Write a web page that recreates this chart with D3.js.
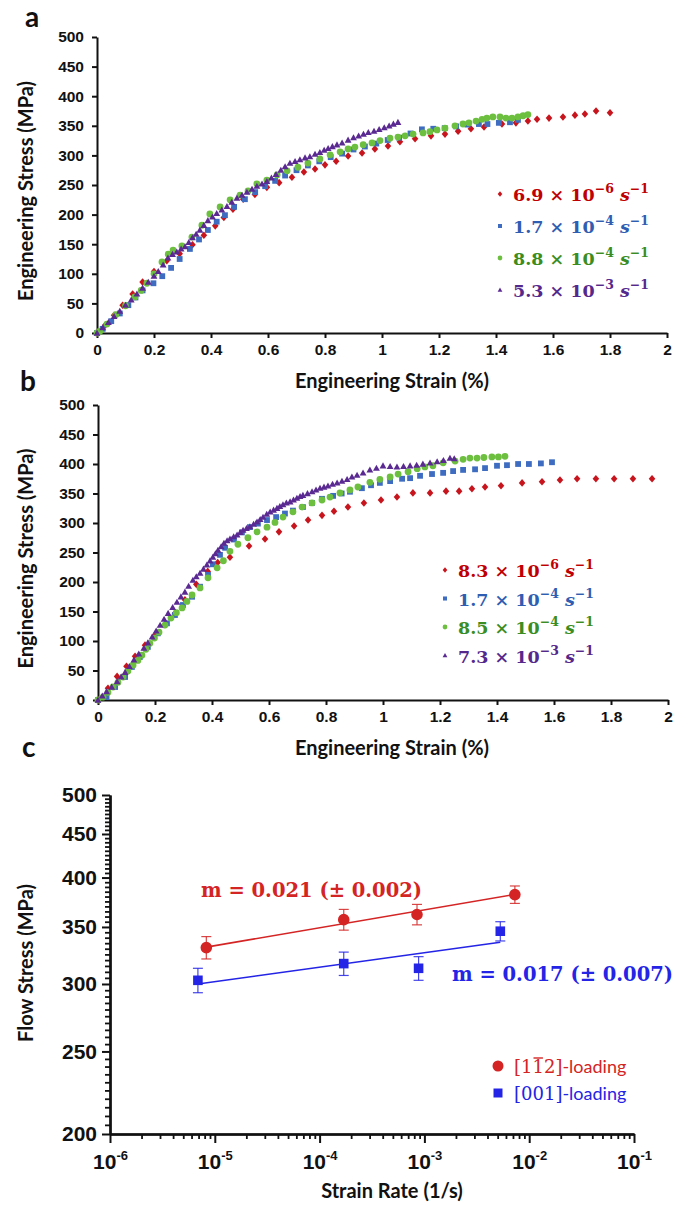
<!DOCTYPE html>
<html><head><meta charset="utf-8">
<script src="https://cdn.jsdelivr.net/npm/d3@7"></script>
<style>
body{margin:0;background:#fff}
svg{display:block}
</style></head><body>
<svg id="fig" width="689" height="1207"></svg>
<script>
// ---------- data: panel a (rates 6.9e-6, 1.7e-4, 8.8e-4, 5.3e-3 1/s) ----------
const strainTicks = [0, 0.2, 0.4, 0.6, 0.8, 1, 1.2, 1.4, 1.6, 1.8, 2];
const stressTicks = [0, 50, 100, 150, 200, 250, 300, 350, 400, 450, 500];

const aMantissa = ["6.9", "1.7", "8.8", "5.3"];
const aExponent = ["−6", "−4", "−4", "−3"];

const aRed = [[0,0],[0.03,14],[0.06,30],[0.09,47],[0.125,66],[0.16,86],[0.2,104],[0.245,122],[0.29,134],[0.335,149],[0.375,165],[0.415,181],[0.445,195],[0.477,209],[0.513,226],[0.554,234],[0.596,246],[0.639,254],[0.684,263],[0.726,272],[0.765,277],[0.8,284],[0.839,290],[0.881,299],[0.93,304],[0.975,311],[1.021,316],[1.063,323],[1.116,328],[1.172,333],[1.221,336],[1.267,341],[1.312,345],[1.358,348],[1.421,353],[1.47,355],[1.512,358],[1.544,361],[1.586,363],[1.635,365],[1.677,368],[1.712,370],[1.751,375],[1.8,372]];
const aBlue = [[0,0],[0.02,7],[0.05,20],[0.08,33],[0.11,47],[0.135,60],[0.16,72],[0.198,84],[0.229,96],[0.26,110],[0.29,125],[0.326,142],[0.358,158],[0.389,174],[0.42,188],[0.449,199],[0.481,213],[0.519,226],[0.555,238],[0.59,248],[0.625,257],[0.66,266],[0.7,275],[0.74,283],[0.78,290],[0.82,297],[0.86,303],[0.9,310],[0.94,315],[0.98,320],[1.02,326],[1.06,330],[1.1,337],[1.14,344],[1.18,345],[1.22,346],[1.26,349],[1.3,352],[1.34,353],[1.37,353],[1.41,355],[1.449,356],[1.477,360]];
const aGreen = [[0,0],[0.01,3],[0.035,15],[0.066,31],[0.1,46],[0.133,61],[0.155,72],[0.175,84],[0.2,100],[0.228,120],[0.25,133],[0.267,140],[0.298,147],[0.333,162],[0.368,182],[0.396,201],[0.432,213],[0.467,225],[0.502,233],[0.53,240],[0.561,252],[0.596,258],[0.632,267],[0.667,274],[0.705,280],[0.74,287],[0.782,294],[0.818,301],[0.853,306],[0.881,311],[0.905,314],[0.934,318],[0.965,321],[0.993,325],[1.028,329],[1.056,331],[1.081,333],[1.109,336],[1.144,338],[1.168,340],[1.193,343],[1.221,346],[1.256,350],[1.284,353],[1.305,355],[1.33,358],[1.351,361],[1.368,363],[1.389,365],[1.414,365],[1.435,363],[1.456,363],[1.477,365],[1.495,367],[1.512,369]];
const aPurple = [[0,0],[0.02,9],[0.04,18],[0.06,28],[0.08,37],[0.1,47],[0.12,56],[0.14,66],[0.16,76],[0.18,86],[0.2,96],[0.215,104],[0.232,115],[0.249,127],[0.265,133],[0.28,137],[0.295,142],[0.309,146],[0.322,153],[0.335,161],[0.348,167],[0.361,174],[0.375,182],[0.389,190],[0.405,196],[0.42,202],[0.438,208],[0.456,214],[0.473,221],[0.491,228],[0.509,233],[0.526,238],[0.544,243],[0.561,248],[0.579,252],[0.596,256],[0.612,262],[0.628,268],[0.645,275],[0.66,281],[0.677,287],[0.695,290],[0.712,293],[0.73,296],[0.747,298],[0.765,302],[0.782,305],[0.797,309],[0.811,312],[0.826,315],[0.842,318],[0.86,321],[0.881,326],[0.9,330],[0.918,333],[0.935,336],[0.952,339],[0.972,341],[0.99,344],[1.008,347],[1.025,350],[1.04,353],[1.056,356]];

// ---------- data: panel b (rates 8.3e-6, 1.7e-4, 8.5e-4, 7.3e-3 1/s) ----------
const bMantissa = ["8.3", "1.7", "8.5", "7.3"];
const bExponent = ["−6", "−4", "−4", "−3"];

const bRed = [[0,0],[0.035,20],[0.067,40],[0.1,57],[0.13,74],[0.165,93],[0.2,110],[0.235,128],[0.27,147],[0.305,170],[0.345,196],[0.385,218],[0.42,233],[0.463,242],[0.53,261],[0.586,273],[0.635,285],[0.688,295],[0.737,305],[0.786,313],[0.828,320],[0.877,327],[0.933,334],[0.993,339],[1.049,344],[1.105,351],[1.165,351],[1.221,354],[1.267,354],[1.312,358],[1.358,361],[1.414,363],[1.488,368],[1.558,370],[1.621,373],[1.681,375],[1.747,375],[1.811,375],[1.877,375],[1.944,375]];
const bBlue = [[0,0],[0.03,5],[0.06,22],[0.095,39],[0.119,56],[0.147,73],[0.175,90],[0.21,113],[0.242,130],[0.27,144],[0.298,161],[0.33,175],[0.358,192],[0.386,212],[0.403,230],[0.428,246],[0.446,258],[0.477,272],[0.505,284],[0.533,293],[0.561,299],[0.593,305],[0.625,310],[0.656,316],[0.684,321],[0.719,327],[0.751,334],[0.786,341],[0.825,346],[0.855,350],[0.884,353],[0.926,359],[0.958,364],[0.989,368],[1.025,371],[1.067,375],[1.095,376],[1.13,380],[1.172,383],[1.211,385],[1.246,388],[1.281,390],[1.323,391],[1.358,393],[1.4,397],[1.435,398],[1.474,400],[1.512,400],[1.554,401],[1.593,403]];
const bGreen = [[0,0],[0.018,5],[0.035,13],[0.053,22],[0.07,30],[0.088,39],[0.105,49],[0.123,59],[0.14,67],[0.154,76],[0.168,86],[0.182,96],[0.198,105],[0.214,115],[0.235,127],[0.256,139],[0.275,148],[0.295,156],[0.312,167],[0.33,178],[0.358,190],[0.386,207],[0.418,224],[0.44,236],[0.463,252],[0.491,264],[0.526,275],[0.558,285],[0.593,293],[0.621,301],[0.649,310],[0.684,319],[0.716,327],[0.751,334],[0.786,339],[0.814,344],[0.849,351],[0.884,356],[0.912,361],[0.954,369],[0.989,374],[1.025,378],[1.053,383],[1.088,387],[1.12,392],[1.147,395],[1.175,397],[1.211,402],[1.253,405],[1.281,408],[1.305,410],[1.33,410],[1.354,411],[1.382,412],[1.405,412],[1.428,413]];
const bPurple = [[0,0],[0.015,7],[0.03,14],[0.048,22],[0.067,31],[0.081,39],[0.095,47],[0.11,57],[0.126,68],[0.143,78],[0.161,88],[0.175,97],[0.19,107],[0.204,117],[0.218,127],[0.232,137],[0.246,147],[0.262,157],[0.277,166],[0.291,175],[0.305,183],[0.318,193],[0.333,203],[0.345,209],[0.358,215],[0.37,222],[0.382,229],[0.393,236],[0.403,242],[0.412,248],[0.421,254],[0.432,260],[0.442,266],[0.453,270],[0.463,273],[0.476,277],[0.488,280],[0.499,284],[0.509,288],[0.521,291],[0.533,294],[0.546,298],[0.558,302],[0.569,306],[0.579,310],[0.592,315],[0.604,319],[0.616,322],[0.628,325],[0.638,328],[0.649,331],[0.661,334],[0.674,336],[0.686,339],[0.698,342],[0.709,345],[0.719,347],[0.735,350],[0.751,353],[0.765,356],[0.779,359],[0.793,361],[0.807,363],[0.823,366],[0.839,368],[0.856,371],[0.874,374],[0.891,378],[0.909,381],[0.93,385],[0.954,390],[0.977,393],[1.0,397],[1.025,396],[1.049,395],[1.072,396],[1.095,397],[1.118,398],[1.14,400],[1.165,402],[1.19,404],[1.212,406],[1.235,410],[1.25,409]];

// ---------- data: panel c (flow stress vs strain rate) ----------
const rate112 = [8.3e-6, 1.7e-4, 8.5e-4, 7.3e-3];
const stress112 = [331, 357, 362, 382];
const err112 = [10, 10, 10, 9];
const rate001 = [6.9e-6, 1.7e-4, 8.8e-4, 5.3e-3];
const stress001 = [303, 317, 313, 346];
const err001 = [10, 10, 10, 9];
const slopeM = [0.021, 0.017];
const slopeErr = [0.002, 0.007];
const rateDecades = [-6, -5, -4, -3, -2, -1];
const flowTicks = [200, 250, 300, 350, 400, 450, 500];

// ---------- styling ----------
const C = {
  red: "#c8151d", blue: "#3d6cc0", green: "#6cbf3f", purple: "#5a2a92",
  redTxt: "#c00000", blueTxt: "#2f5db2", greenTxt: "#3a8d22", purpleTxt: "#55288c",
  cRed: "#d42424", cBlue: "#2424e6"
};
const tickFont = "'Liberation Sans', Arial, sans-serif";
const titleFont = "Lato, 'Open Sans', sans-serif";
const mathFont = "'DejaVu Serif', serif";

const svg = d3.select("#fig");

function markerPath(type, s) {
  switch (type) {
    case "diamond": return `M0,${-s * 1.15}L${s},0L0,${s * 1.15}L${-s},0Z`;
    case "square": return `M${-s},${-s}H${s}V${s}H${-s}Z`;
    case "circle": return `M${s},0A${s},${s} 0 1,1 ${-s},0A${s},${s} 0 1,1 ${s},0Z`;
    case "triangle": return `M0,${-s * 1.1}L${s * 1.1},${s * 0.85}L${-s * 1.1},${s * 0.85}Z`;
  }
}

function styleAxis(g, fontSize) {
  g.select(".domain").attr("stroke", "#111").attr("stroke-width", 2);
  g.selectAll(".tick line").attr("stroke", "#111").attr("stroke-width", 2);
  g.selectAll(".tick text").attr("fill", "#111")
    .attr("font-family", tickFont).attr("font-weight", "bold").attr("font-size", fontSize);
}

function stressStrainPanel(cfg) {
  const x = d3.scaleLinear().domain([0, 2]).range([cfg.left, cfg.right]);
  const y = d3.scaleLinear().domain([0, 500]).range([cfg.bottom, cfg.top]);
  const g = svg.append("g");

  const gx = g.append("g").attr("transform", `translate(0,${cfg.bottom})`)
    .call(d3.axisBottom(x).tickValues(strainTicks).tickFormat(d => String(d)).tickSize(5).tickSizeOuter(0).tickPadding(6));
  styleAxis(gx, 15.5);
  const gy = g.append("g").attr("transform", `translate(${cfg.left},0)`)
    .call(d3.axisLeft(y).tickValues(stressTicks).tickFormat(d => String(d)).tickSize(5).tickSizeOuter(0).tickPadding(8));
  styleAxis(gy, 15.5);

  cfg.series.forEach(s => {
    g.append("g").selectAll("path").data(s.points).join("path")
      .attr("transform", d => `translate(${x(d[0])},${y(d[1])})`)
      .attr("d", markerPath(s.shape, s.size))
      .attr("fill", s.color);
  });

  // axis titles
  g.append("text").attr("x", 392).attr("y", cfg.bottom + 55)
    .attr("text-anchor", "middle").attr("font-family", titleFont).attr("font-weight", "bold")
    .attr("font-size", 20).attr("fill", "#111").text("Engineering Strain (%)");
  g.append("text").attr("transform", `translate(33,${(cfg.top + cfg.bottom) / 2 + 6}) rotate(-90)`)
    .attr("text-anchor", "middle").attr("font-family", titleFont).attr("font-weight", "bold")
    .attr("font-size", 20).attr("fill", "#111").text("Engineering Stress (MPa)");

  // panel letter
  g.append("text").attr("x", cfg.letterX).attr("y", cfg.letterY)
    .attr("font-family", titleFont).attr("font-weight", "bold").attr("font-size", 28)
    .attr("fill", "#111").text(cfg.letter);

  // legend
  cfg.series.forEach((s, i) => {
    const ly = cfg.legendY + i * cfg.legendStep;
    g.append("path").attr("transform", `translate(${cfg.legendX},${ly})`)
      .attr("d", markerPath(s.shape, s.size * 0.7)).attr("fill", s.color);
    const t = g.append("text").attr("x", cfg.legendX + 13).attr("y", ly + 7)
      .attr("font-family", mathFont).attr("font-weight", "bold").attr("font-size", 17.5)
      .attr("fill", s.txt);
    t.append("tspan").text(`${s.mant} × 10`);
    t.append("tspan").attr("dy", -8).attr("font-size", 12.5).text(s.exp);
    t.append("tspan").attr("dy", 8).text(" ");
    t.append("tspan").attr("font-style", "italic").text("s");
    t.append("tspan").attr("dy", -8).attr("font-size", 12.5).text("−1");
  });
}

const shapes = ["diamond", "square", "circle", "triangle"];
const sizes = [3.3, 2.9, 3.4, 3.1];
const cols = [C.red, C.blue, C.green, C.purple];
const txtCols = [C.redTxt, C.blueTxt, C.greenTxt, C.purpleTxt];

stressStrainPanel({
  left: 97, right: 667, top: 37, bottom: 333, letter: "a", letterX: 25, letterY: 27,
  legendX: 500, legendY: 194, legendStep: 32,
  series: [aRed, aBlue, aGreen, aPurple].map((p, i) => ({
    points: p, shape: shapes[i], size: sizes[i], color: cols[i], txt: txtCols[i],
    mant: aMantissa[i], exp: aExponent[i]
  }))
});

stressStrainPanel({
  left: 98, right: 668, top: 405, bottom: 700, letter: "b", letterX: 20, letterY: 391,
  legendX: 445, legendY: 570, legendStep: 28.5,
  series: [bRed, bBlue, bGreen, bPurple].map((p, i) => ({
    points: p, shape: shapes[i], size: sizes[i], color: cols[i], txt: txtCols[i],
    mant: bMantissa[i], exp: bExponent[i]
  }))
});

// ---------- panel c ----------
(function () {
  const x = d3.scaleLog().domain([1e-6, 1e-1]).range([110, 634]);
  const y = d3.scaleLog().domain([200, 500]).range([1134, 795]);
  const g = svg.append("g");

  const minorX = [];
  rateDecades.slice(0, -1).forEach(k => { for (let m = 2; m <= 9; m++) minorX.push(m * Math.pow(10, k)); });
  const minorY = d3.range(205, 500, 5).filter(v => v % 50 !== 0);

  const gxm = g.append("g").attr("transform", "translate(0,1134)")
    .call(d3.axisBottom(x).tickValues(minorX).tickFormat("").tickSize(5).tickSizeOuter(0));
  styleAxis(gxm, 20);
  const gx = g.append("g").attr("transform", "translate(0,1134)")
    .call(d3.axisBottom(x).tickValues(rateDecades.map(k => Math.pow(10, k))).tickFormat("").tickSize(9).tickSizeOuter(0).tickPadding(8));
  styleAxis(gx, 21);
  gx.select(".domain").attr("stroke-width", 2.5);
  gx.selectAll(".tick").each(function (d, i) {
    const t = d3.select(this).append("text").attr("y", 35).attr("text-anchor", "middle")
      .attr("font-family", tickFont).attr("font-weight", "bold").attr("font-size", 21).attr("fill", "#111");
    t.append("tspan").text("10");
    t.append("tspan").attr("dy", -9).attr("font-size", 13).text(String(rateDecades[i]));
  });

  const gym = g.append("g").attr("transform", "translate(110,0)")
    .call(d3.axisLeft(y).tickValues(minorY).tickFormat("").tickSize(5).tickSizeOuter(0));
  styleAxis(gym, 20);
  const gy = g.append("g").attr("transform", "translate(110,0)")
    .call(d3.axisLeft(y).tickValues(flowTicks).tickFormat(d3.format("d")).tickSize(8).tickSizeOuter(0).tickPadding(5));
  styleAxis(gy, 21);
  gy.select(".domain").attr("stroke-width", 2.5);
  gym.selectAll(".tick line").attr("stroke-width", 1.8);
  gxm.selectAll(".tick line").attr("stroke-width", 1.8);

  // fitted power laws: log(stress) = log(A) + m log(rate), passing through the centroid
  function fitLine(rates, stresses, m) {
    const lx = d3.mean(rates, r => Math.log10(r));
    const ly = d3.mean(stresses, s => Math.log10(s));
    const ends = [d3.min(rates), d3.max(rates)];
    return ends.map(r => [r, Math.pow(10, ly + m * (Math.log10(r) - lx))]);
  }
  const groups = [
    { rates: rate112, stress: stress112, err: err112, m: slopeM[0], color: C.cRed, shape: "circle", size: 5.8 },
    { rates: rate001, stress: stress001, err: err001, m: slopeM[1], color: C.cBlue, shape: "square", size: 4.8 }
  ];
  groups.forEach(grp => {
    const line = d3.line().x(d => x(d[0])).y(d => y(d[1]));
    g.append("path").attr("d", line(fitLine(grp.rates, grp.stress, grp.m)))
      .attr("fill", "none").attr("stroke", grp.color).attr("stroke-width", 1.6);
    const pts = grp.rates.map((r, i) => ({ r, s: grp.stress[i], e: grp.err[i] }));
    const eb = g.append("g").attr("stroke", grp.color).attr("stroke-width", 1.2).attr("stroke-opacity", 0.85);
    pts.forEach(p => {
      const cx = x(p.r), y1 = y(p.s + p.e), y2 = y(p.s - p.e);
      eb.append("line").attr("x1", cx).attr("x2", cx).attr("y1", y1).attr("y2", y2);
      eb.append("line").attr("x1", cx - 5).attr("x2", cx + 5).attr("y1", y1).attr("y2", y1);
      eb.append("line").attr("x1", cx - 5).attr("x2", cx + 5).attr("y1", y2).attr("y2", y2);
    });
    g.append("g").selectAll("path").data(pts).join("path")
      .attr("transform", p => `translate(${x(p.r)},${y(p.s)})`)
      .attr("d", markerPath(grp.shape, grp.size)).attr("fill", grp.color);
  });

  // slope annotations
  g.append("text").attr("x", 201).attr("y", 897).attr("font-family", mathFont).attr("font-weight", "bold")
    .attr("font-size", 19.5).attr("fill", C.cRed).text(`m = ${slopeM[0].toFixed(3)} (± ${slopeErr[0].toFixed(3)})`);
  g.append("text").attr("x", 452).attr("y", 981).attr("font-family", mathFont).attr("font-weight", "bold")
    .attr("font-size", 19.5).attr("fill", C.cBlue).text(`m = ${slopeM[1].toFixed(3)} (± ${slopeErr[1].toFixed(3)})`);

  // axis titles
  g.append("text").attr("x", 392).attr("y", 1198).attr("text-anchor", "middle")
    .attr("font-family", titleFont).attr("font-weight", "bold").attr("font-size", 20).attr("fill", "#111")
    .text("Strain Rate (1/s)");
  g.append("text").attr("transform", "translate(33,963) rotate(-90)").attr("text-anchor", "middle")
    .attr("font-family", titleFont).attr("font-weight", "bold").attr("font-size", 20).attr("fill", "#111")
    .text("Flow Stress (MPa)");
  g.append("text").attr("x", 22).attr("y", 757).attr("font-family", titleFont).attr("font-weight", "bold")
    .attr("font-size", 28).attr("fill", "#111").text("c");

  // legend
  const legend = [
    { color: C.cRed, shape: "circle", size: 5.5, y: 1066, parts: ["[1", "1", "2]"], bar: true },
    { color: C.cBlue, shape: "square", size: 4.5, y: 1093, parts: ["[001]"], bar: false }
  ];
  legend.forEach(L => {
    g.append("path").attr("transform", `translate(498,${L.y})`).attr("d", markerPath(L.shape, L.size)).attr("fill", L.color);
    const t = g.append("text").attr("x", 514).attr("y", L.y + 7).attr("fill", L.color).attr("font-size", 18);
    L.parts.forEach(p => t.append("tspan").attr("font-family", mathFont).text(p));
    t.append("tspan").attr("font-family", titleFont).text("-loading");
    if (L.bar) {
      const node = t.node();
      const s = node.getStartPositionOfChar(2), e = node.getEndPositionOfChar(2);
      g.append("line").attr("x1", s.x + 1).attr("x2", e.x - 1).attr("y1", L.y - 8).attr("y2", L.y - 8)
        .attr("stroke", L.color).attr("stroke-width", 1.4);
    }
  });
})();
</script></body></html>
